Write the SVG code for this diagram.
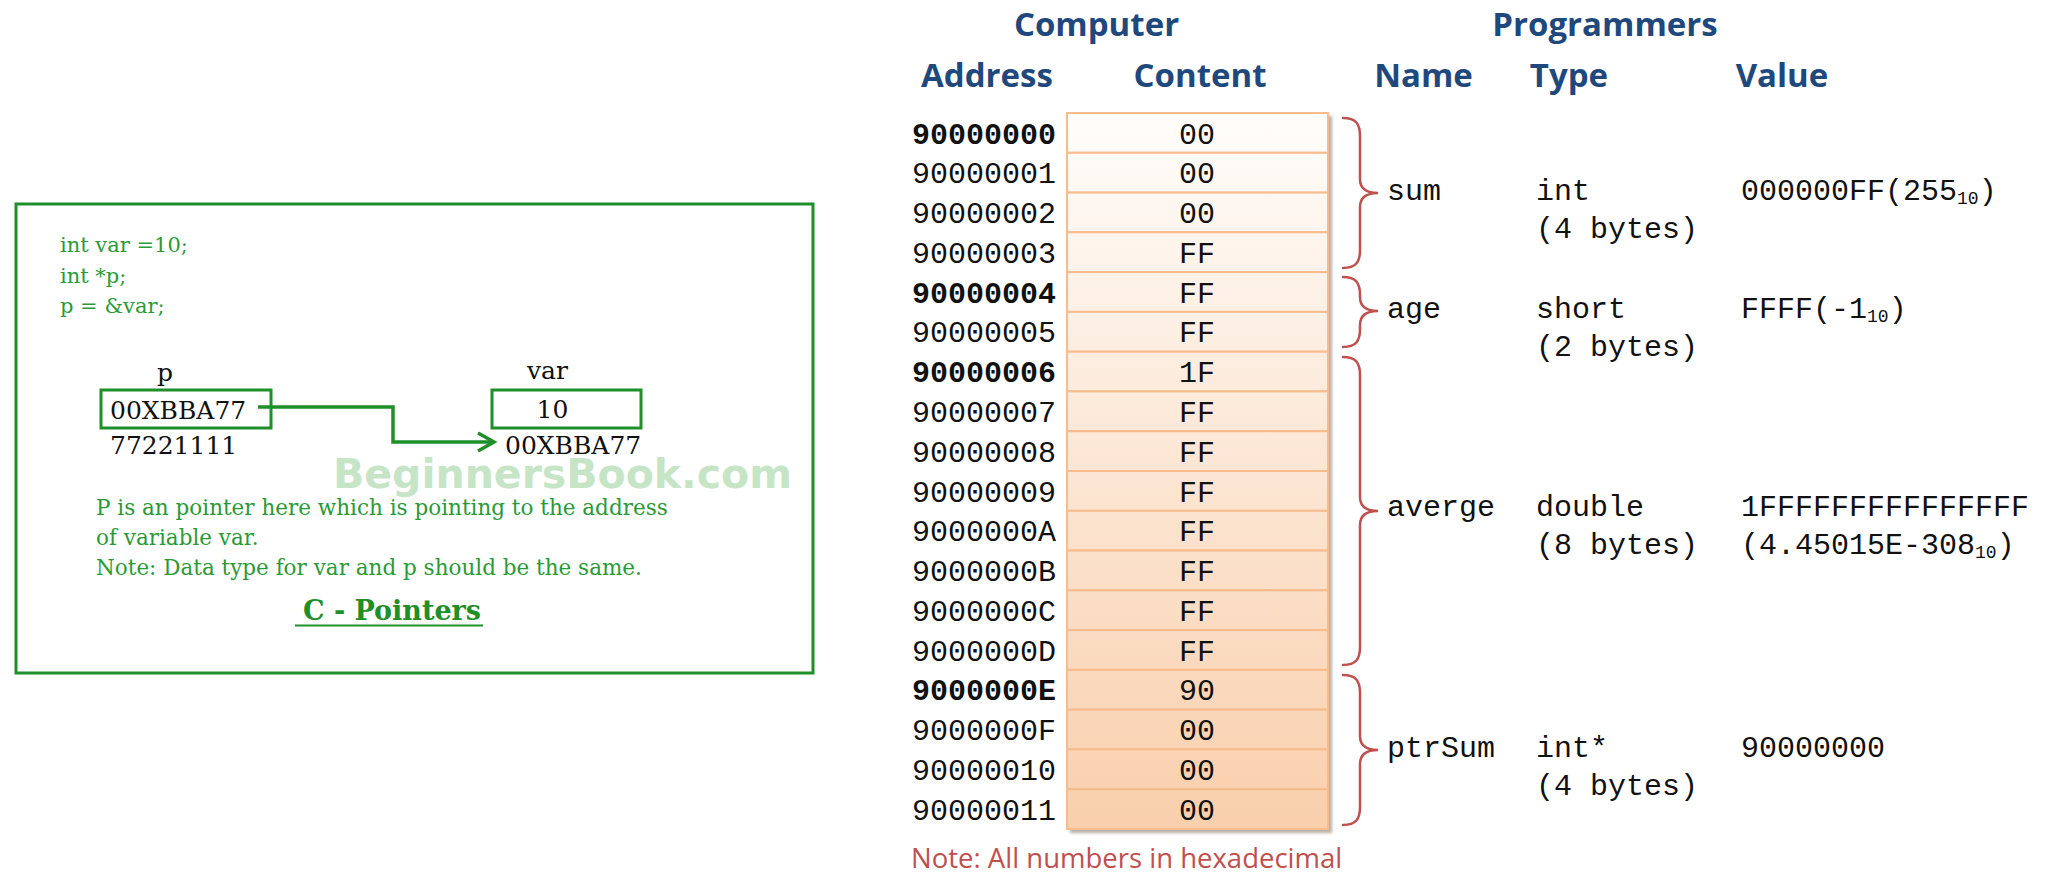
<svg xmlns="http://www.w3.org/2000/svg" width="2048" height="880" viewBox="0 0 2048 880">
<style>
.serif{font-family:"DejaVu Serif","Liberation Serif",serif}
.code{font-size:21px;fill:#2a9a36}
.note{font-size:21.5px;fill:#2a9a36}
.lbl{font-size:25px;fill:#111}
.gbox{fill:none;stroke:#1f8f2a;stroke-width:3}
.hdr{font-family:"Open Sans","Liberation Sans",sans-serif;font-weight:700;font-size:33px;fill:#1F497D;text-anchor:middle}
.mono{font-family:"Liberation Mono","DejaVu Sans Mono",monospace;font-size:30px;fill:#111}
.addr{text-anchor:end}
.b{font-weight:700}
.cnt{text-anchor:middle}
.cell{fill:url(#cellGrad);stroke:#f8bb8c;stroke-width:2}
.brace{fill:none;stroke:#c0504d;stroke-width:2.5;stroke-linecap:round}
.sub{font-size:18px}
</style>
<defs>
<linearGradient id="cellGrad" gradientUnits="userSpaceOnUse" x1="0" y1="113" x2="0" y2="829">
<stop offset="0" stop-color="#fffdfb"/>
<stop offset="1" stop-color="#f9cfac"/>
</linearGradient>
<filter id="shadow" x="-5%" y="-5%" width="110%" height="110%">
<feGaussianBlur stdDeviation="1.5"/>
</filter>
<marker id="arrowOpen" markerUnits="userSpaceOnUse" markerWidth="24" markerHeight="24" refX="19" refY="12" orient="auto">
<path d="M3,3 L19,12 L3,21" fill="none" stroke="#1f8f2a" stroke-width="3.5" stroke-linejoin="miter"/>
</marker>
</defs>
<rect width="2048" height="880" fill="#ffffff"/>

<!-- Left panel -->
<g id="pointer-panel">
<rect x="16" y="204" width="797" height="469" class="gbox"/>
<text x="333" y="488" font-family="'DejaVu Sans','Liberation Sans',sans-serif" font-weight="700" font-size="41" fill="#c6e5c6">BeginnersBook.com</text>
<text class="serif code" x="60" y="252">int var =10;</text>
<text class="serif code" x="60" y="283">int *p;</text>
<text class="serif code" x="60" y="313">p = &amp;var;</text>
<text class="serif note" x="96" y="515">P is an pointer here which is pointing to the address</text>
<text class="serif note" x="96" y="545">of variable var.</text>
<text class="serif note" x="96" y="575">Note: Data type for var and p should be the same.</text>
<text class="serif" x="303" y="620" font-size="27" font-weight="700" fill="#1f8f2a">C - Pointers</text>
<line x1="295" y1="625.5" x2="483" y2="625.5" stroke="#1f8f2a" stroke-width="2"/>
</g>
<g id="p-node">
<text class="serif lbl" x="165" y="381" text-anchor="middle">p</text>
<rect x="101" y="390" width="170" height="38" class="gbox"/>
<text class="serif lbl" x="110" y="419">00XBBA77</text>
<text class="serif lbl" x="110" y="454">77221111</text>
</g>
<g id="var-node">
<text class="serif lbl" x="547.5" y="379" text-anchor="middle">var</text>
<rect x="492" y="390" width="149" height="38" class="gbox"/>
<text class="serif lbl" x="552.5" y="418" text-anchor="middle">10</text>
<text class="serif lbl" x="505" y="454">00XBBA77</text>
</g>
<g id="connectors">
<polyline points="258,407 393,407 393,442 494,442" fill="none" stroke="#1f8f2a" stroke-width="3.5" marker-end="url(#arrowOpen)"/>
</g>

<!-- Headers -->
<g id="headers">
<text class="hdr" x="1096.5" y="36">Computer</text>
<text class="hdr" x="1605" y="36">Programmers</text>
<text class="hdr" x="987" y="87">Address</text>
<text class="hdr" x="1200" y="87">Content</text>
<text class="hdr" x="1423.5" y="87">Name</text>
<text class="hdr" x="1569" y="87">Type</text>
<text class="hdr" x="1782" y="87">Value</text>
</g>

<!-- Memory table -->
<g id="memory-table">
<rect x="1070" y="116" width="262" height="717" fill="#b8b0a8" filter="url(#shadow)"/>
<rect class="cell" x="1067" y="113" width="261" height="39.8"/>
<rect class="cell" x="1067" y="152.8" width="261" height="39.8"/>
<rect class="cell" x="1067" y="192.6" width="261" height="39.7"/>
<rect class="cell" x="1067" y="232.3" width="261" height="39.8"/>
<rect class="cell" x="1067" y="272.1" width="261" height="39.8"/>
<rect class="cell" x="1067" y="311.9" width="261" height="39.8"/>
<rect class="cell" x="1067" y="351.7" width="261" height="39.7"/>
<rect class="cell" x="1067" y="391.4" width="261" height="39.8"/>
<rect class="cell" x="1067" y="431.2" width="261" height="39.8"/>
<rect class="cell" x="1067" y="471" width="261" height="39.8"/>
<rect class="cell" x="1067" y="510.8" width="261" height="39.8"/>
<rect class="cell" x="1067" y="550.6" width="261" height="39.7"/>
<rect class="cell" x="1067" y="590.3" width="261" height="39.8"/>
<rect class="cell" x="1067" y="630.1" width="261" height="39.8"/>
<rect class="cell" x="1067" y="669.9" width="261" height="39.8"/>
<rect class="cell" x="1067" y="709.7" width="261" height="39.7"/>
<rect class="cell" x="1067" y="749.4" width="261" height="39.8"/>
<rect class="cell" x="1067" y="789.2" width="261" height="39.8"/>
<text class="mono addr b" x="1056" y="143.5">90000000</text>
<text class="mono addr" x="1056" y="183.3">90000001</text>
<text class="mono addr" x="1056" y="223.1">90000002</text>
<text class="mono addr" x="1056" y="262.8">90000003</text>
<text class="mono addr b" x="1056" y="302.6">90000004</text>
<text class="mono addr" x="1056" y="342.4">90000005</text>
<text class="mono addr b" x="1056" y="382.2">90000006</text>
<text class="mono addr" x="1056" y="421.9">90000007</text>
<text class="mono addr" x="1056" y="461.7">90000008</text>
<text class="mono addr" x="1056" y="501.5">90000009</text>
<text class="mono addr" x="1056" y="541.3">9000000A</text>
<text class="mono addr" x="1056" y="581.1">9000000B</text>
<text class="mono addr" x="1056" y="620.8">9000000C</text>
<text class="mono addr" x="1056" y="660.6">9000000D</text>
<text class="mono addr b" x="1056" y="700.4">9000000E</text>
<text class="mono addr" x="1056" y="740.2">9000000F</text>
<text class="mono addr" x="1056" y="779.9">90000010</text>
<text class="mono addr" x="1056" y="819.7">90000011</text>
<text class="mono cnt" x="1197" y="143.5">00</text>
<text class="mono cnt" x="1197" y="183.3">00</text>
<text class="mono cnt" x="1197" y="223.1">00</text>
<text class="mono cnt" x="1197" y="262.8">FF</text>
<text class="mono cnt" x="1197" y="302.6">FF</text>
<text class="mono cnt" x="1197" y="342.4">FF</text>
<text class="mono cnt" x="1197" y="382.2">1F</text>
<text class="mono cnt" x="1197" y="421.9">FF</text>
<text class="mono cnt" x="1197" y="461.7">FF</text>
<text class="mono cnt" x="1197" y="501.5">FF</text>
<text class="mono cnt" x="1197" y="541.3">FF</text>
<text class="mono cnt" x="1197" y="581.1">FF</text>
<text class="mono cnt" x="1197" y="620.8">FF</text>
<text class="mono cnt" x="1197" y="660.6">FF</text>
<text class="mono cnt" x="1197" y="700.4">90</text>
<text class="mono cnt" x="1197" y="740.2">00</text>
<text class="mono cnt" x="1197" y="779.9">00</text>
<text class="mono cnt" x="1197" y="819.7">00</text>
<text x="911" y="868" font-family="'Open Sans','Liberation Sans',sans-serif" font-size="27.5" fill="#c0504d">Note: All numbers in hexadecimal</text>
</g>

<!-- Variables -->
<g id="var-sum">
<path class="brace" d="M1343 118 C1356 118 1360 124 1360 136 L1360 179 C1360 188 1366 193 1378 193 C1366 193 1360 198 1360 207 L1360 250 C1360 262 1356 268 1343 268"/>
<text class="mono" x="1387" y="200">sum</text>
<text class="mono" x="1536" y="200">int</text>
<text class="mono" x="1536" y="238">(4 bytes)</text>
<text class="mono" x="1741" y="200">000000FF(255<tspan class="sub" dy="4">10</tspan><tspan dy="-4">)</tspan></text>
</g>
<g id="var-age">
<path class="brace" d="M1343 277 C1356 277 1360 283 1360 295 L1360 297 C1360 306 1366 311 1378 311 C1366 311 1360 316 1360 325 L1360 329 C1360 341 1356 347 1343 347"/>
<text class="mono" x="1387" y="318">age</text>
<text class="mono" x="1536" y="318">short</text>
<text class="mono" x="1536" y="356">(2 bytes)</text>
<text class="mono" x="1741" y="318">FFFF(-1<tspan class="sub" dy="4">10</tspan><tspan dy="-4">)</tspan></text>
</g>
<g id="var-averge">
<path class="brace" d="M1343 357 C1356 357 1360 363 1360 375 L1360 497 C1360 506 1366 511 1378 511 C1366 511 1360 516 1360 525 L1360 647 C1360 659 1356 665 1343 665"/>
<text class="mono" x="1387" y="516">averge</text>
<text class="mono" x="1536" y="516">double</text>
<text class="mono" x="1536" y="554">(8 bytes)</text>
<text class="mono" x="1741" y="516">1FFFFFFFFFFFFFFF</text>
<text class="mono" x="1741" y="554">(4.45015E-308<tspan class="sub" dy="4">10</tspan><tspan dy="-4">)</tspan></text>
</g>
<g id="var-ptrSum">
<path class="brace" d="M1343 675 C1356 675 1360 681 1360 693 L1360 736 C1360 745 1366 750 1378 750 C1366 750 1360 755 1360 764 L1360 807 C1360 819 1356 825 1343 825"/>
<text class="mono" x="1387" y="757">ptrSum</text>
<text class="mono" x="1536" y="757">int*</text>
<text class="mono" x="1536" y="795">(4 bytes)</text>
<text class="mono" x="1741" y="757">90000000</text>
</g>
</svg>
